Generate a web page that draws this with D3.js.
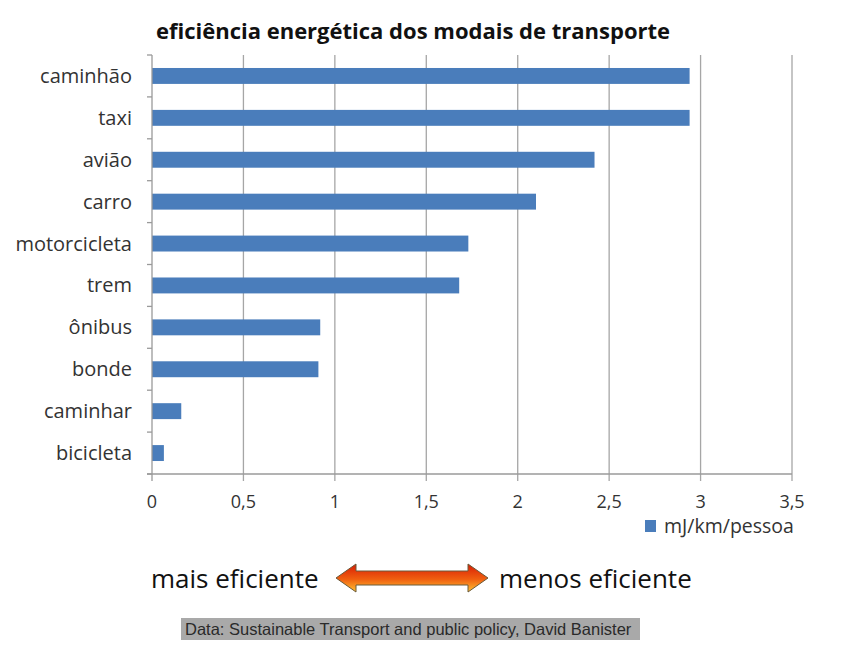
<!DOCTYPE html>
<html><head><meta charset="utf-8">
<script src="https://cdn.jsdelivr.net/npm/d3@7"></script>
<style>body{margin:0;background:#fff;} svg{display:block;}</style>
</head><body>
<svg id="c" width="854" height="653"></svg>
<script>
const categories = ["caminhão","taxi","avião","carro","motorcicleta","trem","ônibus","bonde","caminhar","bicicleta"];
const values = [2.94,2.94,2.42,2.10,1.73,1.68,0.92,0.91,0.16,0.065];
const xTicks = [0,0.5,1,1.5,2,2.5,3,3.5];
const xTickLabels = ["0","0,5","1","1,5","2","2,5","3","3,5"];
const seriesName = "mJ/km/pessoa";
const title = "eficiência energética dos modais de transporte";
const leftNote = "mais eficiente", rightNote = "menos eficiente";
const source = "Data: Sustainable Transport and public policy, David Banister";

const svg = d3.select("#c");
const font = "'Open Sans', 'Noto Sans', sans-serif";
const x = d3.scaleLinear().domain([0,3.5]).range([152,792]);
const y = d3.scaleBand().domain(categories).range([55,474]).paddingInner(0.62).paddingOuter(0.31);

// title
svg.append("text").attr("x",413).attr("y",39).attr("text-anchor","middle")
  .attr("font-family",font).attr("font-weight","bold").attr("font-size",22).attr("fill","#111").text(title);

// gridlines
svg.append("g").selectAll("line").data(xTicks.slice(1)).join("line")
  .attr("x1",d=>x(d)).attr("x2",d=>x(d)).attr("y1",55).attr("y2",481)
  .attr("stroke","#a6a6a6").attr("stroke-width",1.3);

// bars
svg.append("g").selectAll("rect").data(values).join("rect")
  .attr("x",x(0)).attr("y",(d,i)=>y(categories[i]))
  .attr("width",d=>x(d)-x(0)).attr("height",y.bandwidth())
  .attr("fill","#4a7dbb");

// y axis line and ticks
svg.append("line").attr("x1",x(0)).attr("x2",x(0)).attr("y1",55).attr("y2",481).attr("stroke","#9a9a9a").attr("stroke-width",1.3);
const step = y.step();
svg.append("g").selectAll("line").data(d3.range(categories.length+1)).join("line")
  .attr("x1",x(0)-5).attr("x2",x(0)).attr("y1",i=>55+i*step).attr("y2",i=>55+i*step)
  .attr("stroke","#9a9a9a").attr("stroke-width",1.3);
// x axis line
svg.append("line").attr("x1",x(0)-5).attr("x2",x(3.5)).attr("y1",474).attr("y2",474).attr("stroke","#9a9a9a").attr("stroke-width",1.3);

// category labels
svg.append("g").selectAll("text").data(categories).join("text")
  .attr("x",132).attr("y",d=>y(d)+y.bandwidth()/2).attr("dy","0.35em").attr("text-anchor","end")
  .attr("font-family",font).attr("font-size",20).attr("fill","#333").text(d=>d);

// x tick labels
svg.append("g").selectAll("text").data(xTicks).join("text")
  .attr("x",d=>x(d)).attr("y",508).attr("text-anchor","middle")
  .attr("font-family",font).attr("font-size",18).attr("fill","#333").text((d,i)=>xTickLabels[i]);

// legend
svg.append("rect").attr("x",645).attr("y",520).attr("width",11).attr("height",12).attr("fill","#4a7dbb");
svg.append("text").attr("x",664).attr("y",533).attr("font-family",font).attr("font-size",19.5).attr("fill","#333").text(seriesName);

// bottom notes
svg.append("text").attr("x",151).attr("y",588).attr("font-family",font).attr("font-size",26).attr("fill","#111").text(leftNote);
svg.append("text").attr("x",499).attr("y",588).attr("font-family",font).attr("font-size",26).attr("fill","#111").text(rightNote);

// arrow
const defs = svg.append("defs");
const g = defs.append("linearGradient").attr("id","ag").attr("x1",0).attr("y1",0).attr("x2",0).attr("y2",1);
g.append("stop").attr("offset","0%").attr("stop-color","#d81c05");
g.append("stop").attr("offset","55%").attr("stop-color","#f06010");
g.append("stop").attr("offset","100%").attr("stop-color","#ffc233");
const ax0=336, ax1=488, ay=578, hh=14, sh=7, hw=20;
const arrowPath = d3.path();
arrowPath.moveTo(ax0,ay);
arrowPath.lineTo(ax0+hw,ay-hh);
arrowPath.lineTo(ax0+hw,ay-sh);
arrowPath.lineTo(ax1-hw,ay-sh);
arrowPath.lineTo(ax1-hw,ay-hh);
arrowPath.lineTo(ax1,ay);
arrowPath.lineTo(ax1-hw,ay+hh);
arrowPath.lineTo(ax1-hw,ay+sh);
arrowPath.lineTo(ax0+hw,ay+sh);
arrowPath.lineTo(ax0+hw,ay+hh);
arrowPath.closePath();
svg.append("path").attr("d",arrowPath.toString()).attr("fill","url(#ag)").attr("stroke","#6b5a3a").attr("stroke-width",1);

// source
svg.append("rect").attr("x",181).attr("y",618).attr("width",459).attr("height",22).attr("fill","#a9a9a9");
svg.append("text").attr("x",185).attr("y",635).attr("font-family","'Liberation Sans', Arial, sans-serif").attr("font-size",16.5).attr("fill","#2a2a2a").text(source);
</script>
</body></html>
